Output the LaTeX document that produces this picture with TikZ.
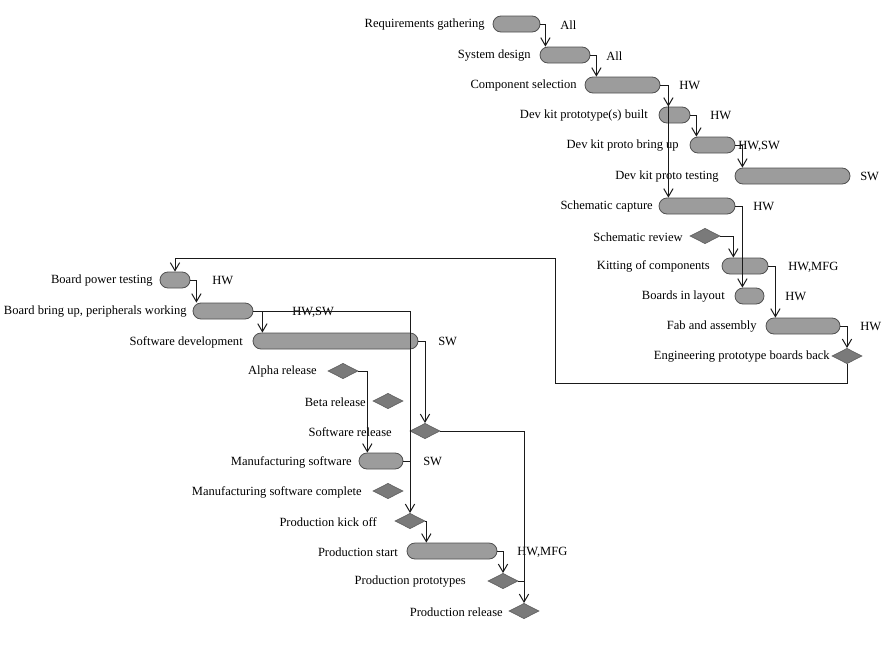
\documentclass[tikz,border=0pt]{standalone}
\usepackage{fontspec}
\setmainfont{Liberation Serif}
\usetikzlibrary{arrows.meta,shapes.geometric}
\definecolor{barfill}{HTML}{9C9C9C}
\definecolor{barline}{HTML}{505050}
\definecolor{dmfill}{HTML}{7A7A7A}
\definecolor{dmline}{HTML}{606060}
\definecolor{ln}{HTML}{1A1A1A}
\tikzset{
  bar/.style={draw=barline, fill=barfill, line width=0.6pt, rectangle, rounded corners=6pt, minimum height=12pt, inner sep=0pt},
  dmd/.style={draw=dmline, fill=dmfill, line width=0.5pt, diamond, minimum width=22.5pt, minimum height=11.5pt, inner sep=0pt},
  lbl/.style={font=\fontsize{9.4pt}{10pt}\selectfont, inner sep=0pt, anchor=east, text=black, yshift=-0.7pt},
  res/.style={font=\fontsize{9.4pt}{10pt}\selectfont, inner sep=0pt, anchor=west, text=black, yshift=-0.7pt},
  arr/.style={draw=ln, line width=0.75pt, -{Straight Barb[length=6pt,width=7pt,line width=0.75pt]}},
  lnk/.style={draw=ln, line width=0.75pt}
}
\newcommand\gbar[4]{\node[bar, minimum width={(#3-#2)*0.75pt}] (#1) at ({(#2+#3)/2},#4) {};}
\begin{document}
\begin{tikzpicture}[x=0.75pt,y=-0.75pt]
\useasboundingbox (0,0) rectangle (892,650);
% ---- right cluster: bars and milestones
\gbar{req}{493}{540}{24}
\gbar{sys}{540}{590}{55}
\gbar{comp}{585}{660}{85}
\gbar{devb}{659}{690}{115}
\gbar{bup}{690}{735}{145}
\gbar{test}{735}{850}{176}
\gbar{sch}{659}{735}{206}
\node[dmd] (schrev) at (705,236) {};
\gbar{kit}{722}{768}{266}
\gbar{lay}{735}{764}{296}
\gbar{fab}{766}{840}{326}
\node[dmd] (eng) at (847,356) {};
% ---- left cluster
\gbar{bpt}{160}{190}{280}
\gbar{bbu}{193}{253}{311}
\gbar{swdev}{253}{418}{341}
\node[dmd] (alpha) at (343,371) {};
\node[dmd] (beta) at (388,401) {};
\node[dmd] (swrel) at (425,431) {};
\gbar{mfgsw}{359}{403}{461}
\node[dmd] (mfgc) at (388,491) {};
\node[dmd] (kick) at (410,521) {};
\gbar{prodstart}{407}{497}{551}
\node[dmd] (proto) at (503,581) {};
\node[dmd] (prel) at (524,611) {};
% ---- task labels
\node[lbl] (t1) at (485,24) {Requirements gathering};
\node[lbl] (t2) at (531,55) {System design};
\node[lbl] (t3) at (577,85) {Component selection};
\node[lbl] (t4) at (648,115) {Dev kit prototype(s) built};
\node[lbl] (t5) at (679,145) {Dev kit proto bring up};
\node[lbl] (t6) at (719,176) {Dev kit proto testing};
\node[lbl] (t7) at (653,206) {Schematic capture};
\node[lbl] (t8) at (683,236) {Schematic review};
\node[lbl] (t9) at (710,266) {Kitting of components};
\node[lbl] (t10) at (725,296) {Boards in layout};
\node[lbl] (t11) at (757,326) {Fab and assembly};
\node[lbl] (t12) at (830,356) {Engineering prototype boards back};
\node[lbl] (t13) at (153,280) {Board power testing};
\node[lbl] (t14) at (187,311) {Board bring up, peripherals working};
\node[lbl] (t15) at (243,341) {Software development};
\node[lbl] (t16) at (317,371) {Alpha release};
\node[lbl] (t17) at (366,401) {Beta release};
\node[lbl] (t18) at (392,431) {Software release};
\node[lbl] (t19) at (352,461) {Manufacturing software};
\node[lbl] (t20) at (362,491) {Manufacturing software complete};
\node[lbl] (t21) at (377,521) {Production kick off};
\node[lbl] (t22) at (398,551) {Production start};
\node[lbl] (t23) at (466,581) {Production prototypes};
\node[lbl] (t24) at (503,611) {Production release};
% ---- resource labels
\node[res] (r1) at (560,24) {All};
\node[res] (r2) at (606,55) {All};
\node[res] (r3) at (679,85) {HW};
\node[res] (r4) at (710,115) {HW};
\node[res] (r5) at (738,145) {HW,SW};
\node[res] (r6) at (860,176) {SW};
\node[res] (r7) at (753,206) {HW};
\node[res] (r8) at (788,266) {HW,MFG};
\node[res] (r9) at (785,296) {HW};
\node[res] (r10) at (860,326) {HW};
\node[res] (r11) at (212,280) {HW};
\node[res] (r12) at (292,311) {HW,SW};
\node[res] (r13) at (438,341) {SW};
\node[res] (r14) at (423,461) {SW};
\node[res] (r15) at (517,551) {HW,MFG};
% ---- connectors right cluster
\draw[arr] (req.east) -- ++(5,0) coordinate (c1) -- (c1 |- sys.north);
\draw[arr] (sys.east) -- ++(6,0) coordinate (c2) -- (c2 |- comp.north);
\draw[arr] (comp.east) -- ++(8,0) coordinate (c3) -- (c3 |- devb.north);
\draw[arr] (c3) -- (c3 |- sch.north);
\draw[arr] (devb.east) -- ++(6,0) coordinate (c4) -- (c4 |- bup.north);
\draw[arr] (bup.east) -- ++(7,0) coordinate (c5) -- (c5 |- test.north);
\draw[arr] (sch.east) -- ++(7,0) coordinate (c6) -- (c6 |- lay.north);
\draw[arr] (schrev.east) -- ++(13,0) coordinate (c7) -- (c7 |- kit.north);
\draw[arr] (kit.east) -- ++(7,0) coordinate (c8) -- (c8 |- fab.north);
\draw[arr] (fab.east) -| (eng.north);
\coordinate (loop) at (555,258);
\draw[arr] (eng.south) -- ++(0,19) -| (loop) -| (bpt.north);
% ---- connectors left cluster
\draw[arr] (bpt.east) -- ++(6,0) coordinate (d1) -- (d1 |- bbu.north);
\draw[arr] (bbu.east) -- ++(9,0) coordinate (d2) -- (d2 |- swdev.north);
\draw[arr] (bbu.east) -| (kick.north);
\draw[lnk] (mfgsw.east) -- (mfgsw.east -| kick.north);
\draw[arr] (swdev.east) -| (swrel.north);
\draw[arr] (swrel.east) -| (prel.north);
\draw[lnk] (proto.east) -- (proto.east -| prel.north);
\draw[arr] (alpha.east) -- ++(9,0) coordinate (d3) -- (d3 |- mfgsw.north);
\draw[arr] (kick.east) -- ++(1,0) coordinate (d4) -- (d4 |- prodstart.north);
\draw[arr] (prodstart.east) -| (proto.north);
\end{tikzpicture}
\end{document}
